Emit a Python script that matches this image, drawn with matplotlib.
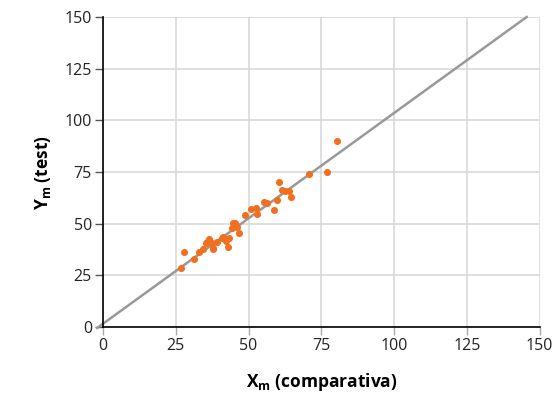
import matplotlib
matplotlib.use('Agg')
import matplotlib.pyplot as plt
import numpy as np

# comparison data
x_comp = [26.7, 27.8, 31.2, 33.1, 34.4, 35.6, 36.5, 37.3, 37.7, 39.0,
          40.7, 41.3, 42.1, 43.0, 44.2, 44.8, 45.9, 46.7, 48.7, 50.7,
          52.7, 53.0, 55.3, 56.4, 58.8, 59.8, 60.4, 61.6, 62.5, 63.8,
          64.4, 70.7, 76.8, 80.4, 43.4, 45.3, 35.4, 37.6]
y_test = [28.4, 36.4, 32.7, 36.4, 37.6, 41.0, 42.6, 40.8, 38.1, 41.3,
          42.9, 43.7, 41.6, 38.9, 47.8, 50.2, 48.5, 45.3, 54.2, 57.1,
          57.4, 54.7, 60.3, 59.8, 56.8, 61.4, 70.0, 66.3, 65.9, 66.0,
          63.1, 73.9, 75.1, 90.0, 42.9, 50.5, 40.5, 37.6]

# regression line (start / end x) and coefficients
line_x = [-2, 145.5]
slope, intercept = 1.02, 1.6

ticks = [0, 25, 50, 75, 100, 125, 150]

plt.rcParams['font.family'] = ['Open Sans', 'DejaVu Sans']
plt.rcParams['mathtext.default'] = 'regular'

fig = plt.figure(figsize=(5.57, 4.01), dpi=100)
ax = fig.add_axes([0.185, 0.1845, 0.784, 0.773])

ax.grid(True, color='#d9d9d9', linewidth=1.2)
ax.set_axisbelow(True)

lx = np.array(line_x)
ax.plot(lx, slope * lx + intercept, color='#999999', linewidth=1.8, zorder=2,
        clip_on=False)
ax.scatter(x_comp, y_test, s=26, color='#f07022', zorder=3, linewidths=0)

ax.set_xlim(0, 150)
ax.set_ylim(0, 150)
ax.set_xticks(ticks)
ax.set_yticks(ticks)

for s in ['top', 'right']:
    ax.spines[s].set_visible(False)
for s in ['left', 'bottom']:
    ax.spines[s].set_color('black')
    ax.spines[s].set_linewidth(1.2)

ax.tick_params(axis='both', direction='out', length=6, width=1,
               labelsize=11.5, colors='black', pad=2)
ax.tick_params(axis='x', colors='#aaaaaa', labelcolor='#222222')
ax.tick_params(axis='y', colors='#555555', labelcolor='#222222')

ax.set_xlabel(r'X$_{m}$ (comparativa)', fontsize=12.5, fontweight='bold',
              labelpad=12)
ax.set_ylabel(r'Y$_{m}$ (test)', fontsize=12.5, fontweight='bold',
              labelpad=8)

fig.savefig('out.png', dpi=100)
